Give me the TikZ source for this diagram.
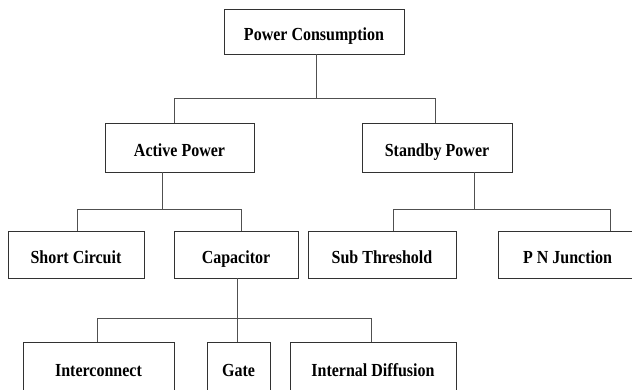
\documentclass[tikz,border=0pt]{standalone}
\usepackage{fontspec}
\setmainfont{Liberation Serif}
\usetikzlibrary{positioning,calc}
\definecolor{boxgray}{RGB}{50,50,50}
\definecolor{linegray}{RGB}{80,80,80}
\newcommand{\tallname}[1]{\scalebox{1}[1.15]{#1}}

\begin{document}
\begin{tikzpicture}[
    x=1pt, y=-1pt,
    box/.style={rectangle, draw=boxgray, fill=white, text centered, inner sep=0pt, text height=19pt, text depth=2pt, line width=0.9pt, minimum height=47pt, font=\fontsize{16}{18}\selectfont\bfseries},
    link/.style={draw=linegray, line width=0.9pt}
]
\useasboundingbox (0,0) rectangle (632,389);
\clip (0,0) rectangle (632,389);

\node[box, minimum width=180pt, minimum height=45pt] (pc) at (314,31.5) {\tallname{Power Consumption}};

\node[box, minimum width=149pt, minimum height=49pt] (ap) at (179.5,147.5) {\tallname{Active Power}};
\node[box, minimum width=150pt, minimum height=49pt] (sp) at (437,147.5) {\tallname{Standby Power}};

\node[box, minimum width=136pt] (sc) at (76,254.5) {\tallname{Short Circuit}};
\node[box, minimum width=124pt] (cap) at (236,254.5) {\tallname{Capacitor}};
\node[box, minimum width=148pt] (st) at (382,254.5) {\tallname{Sub Threshold}};
\node[box, minimum width=139pt] (pn) at (567.5,254.5) {\tallname{P N Junction}};

\node[box, minimum width=151pt, minimum height=52pt] (ic) at (98.5,368) {\tallname{Interconnect}};
\node[box, minimum width=63pt, minimum height=52pt] (gate) at (238.5,368) {\tallname{Gate}};
\node[box, minimum width=166pt, minimum height=52pt] (id) at (373,368) {\tallname{Internal Diffusion}};

\draw[link] ([xshift=2pt]pc.south) -- ++(0,44) coordinate (b1);
\draw[link] ([xshift=-5.5pt]ap.north) |- (b1) -| ([xshift=-2pt]sp.north);

\draw[link] ([xshift=-17.5pt]ap.south) -- ++(0,37) coordinate (b2);
\draw[link] ([xshift=1pt]sc.north) |- (b2) -| ([xshift=5pt]cap.north);

\draw[link] ([xshift=37pt]sp.south) -- ++(0,37) coordinate (b3);
\draw[link] ([xshift=11pt]st.north) |- (b3) -| ([xshift=42.5pt]pn.north);

\draw[link] ([xshift=1pt]cap.south) -- ++(0,40) coordinate (b4);
\draw[link] ([xshift=-1.5pt]ic.north) |- (b4) -| ([xshift=-2pt]id.north);
\draw[link] (b4) -- ([xshift=-1.5pt]gate.north);
\end{tikzpicture}
\end{document}
